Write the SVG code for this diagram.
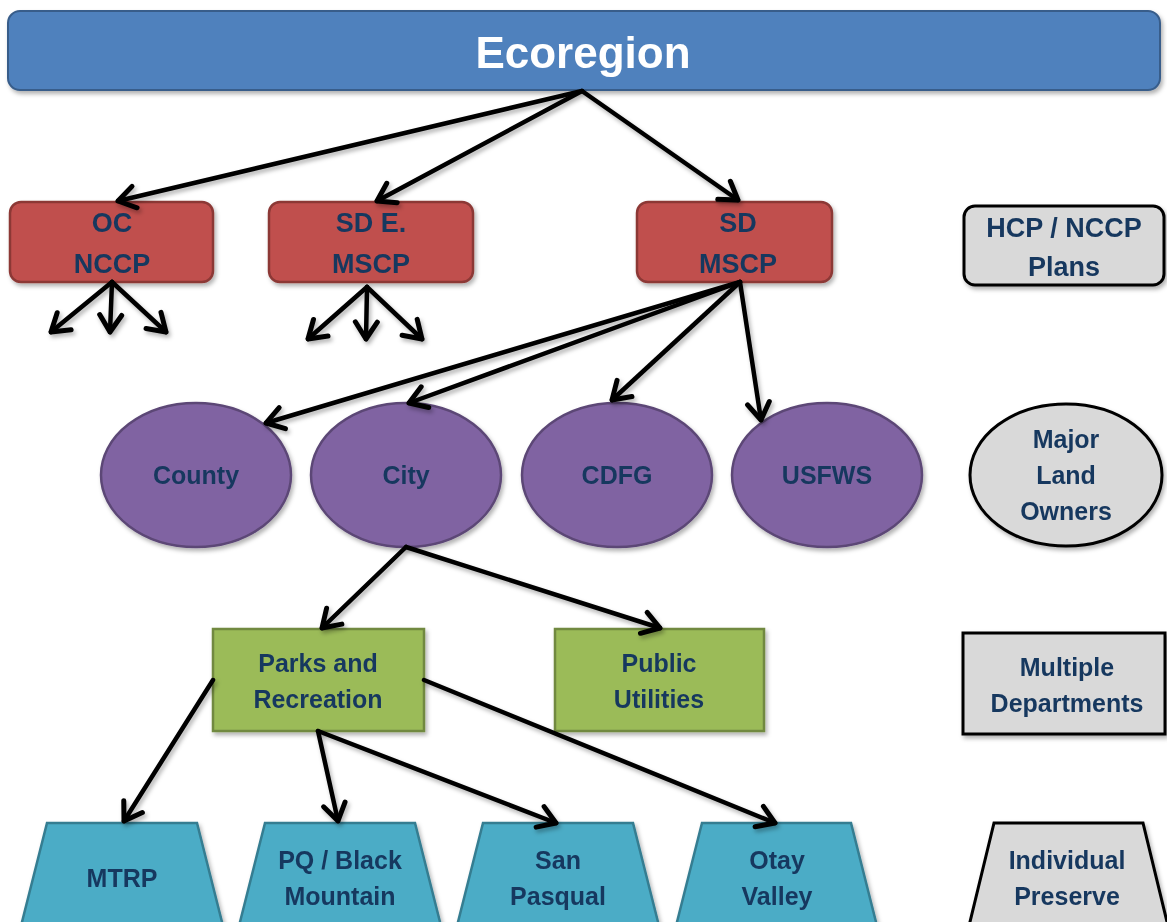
<svg xmlns="http://www.w3.org/2000/svg" width="1167" height="922" viewBox="0 0 1167 922">
<style>
text{font-family:"Liberation Sans",Arial,sans-serif;font-weight:bold;fill:#17375E;text-anchor:middle}
.t{font-size:27px}
.e{font-size:25px}
.g{font-size:25px}
.leg{fill:#D9D9D9;stroke:#000;stroke-width:3}
.red{fill:#C0504D;stroke:#8C3836;stroke-width:2.5}
.pur{fill:#8064A2;stroke:#5C4776;stroke-width:2.5}
.grn{fill:#9BBB59;stroke:#71893F;stroke-width:2.5}
.tea{fill:#4BACC6;stroke:#357D91;stroke-width:2.5}
.c line{stroke:#000;stroke-width:4.5;stroke-linecap:round;marker-end:url(#ah)}
</style>
<defs>
<filter id="sh" x="-10%" y="-10%" width="130%" height="140%">
<feDropShadow dx="2" dy="3" stdDeviation="2" flood-color="#000" flood-opacity="0.3"/>
</filter>
<marker id="ah" markerUnits="userSpaceOnUse" markerWidth="30" markerHeight="30" viewBox="-23 -15 30 30" refX="0" refY="0" orient="auto">
<path d="M-17,-11 L0,0 L-17,11" fill="none" stroke="#000" stroke-width="5" stroke-linecap="round" stroke-linejoin="round"/>
</marker>
</defs>
<rect width="1167" height="922" fill="#fff"/>

<g id="ecoregion" filter="url(#sh)">
<rect x="8" y="11" width="1152" height="79" rx="12" fill="#4F81BD" stroke="#385D8A" stroke-width="2"/>
<text x="583" y="68" style="font-size:44px;fill:#fff">Ecoregion</text>
</g>

<g id="oc-nccp" filter="url(#sh)">
<rect class="red" x="10" y="202" width="203" height="80" rx="11"/>
<text class="t" x="112" y="232">OC</text>
<text class="t" x="112" y="273">NCCP</text>
</g>
<g id="sd-e-mscp" filter="url(#sh)">
<rect class="red" x="269" y="202" width="204" height="80" rx="11"/>
<text class="t" x="371" y="232">SD E.</text>
<text class="t" x="371" y="273">MSCP</text>
</g>
<g id="sd-mscp" filter="url(#sh)">
<rect class="red" x="637" y="202" width="195" height="80" rx="11"/>
<text class="t" x="738" y="232">SD</text>
<text class="t" x="738" y="273">MSCP</text>
</g>
<g id="legend-plans" filter="url(#sh)">
<rect class="leg" x="964" y="206" width="200" height="79" rx="11"/>
<text class="t" x="1064" y="237">HCP / NCCP</text>
<text class="t" x="1064" y="276">Plans</text>
</g>

<g id="county" filter="url(#sh)">
<ellipse class="pur" cx="196" cy="475" rx="95" ry="72"/>
<text class="e" x="196" y="484">County</text>
</g>
<g id="city" filter="url(#sh)">
<ellipse class="pur" cx="406" cy="475" rx="95" ry="72"/>
<text class="e" x="406" y="484">City</text>
</g>
<g id="cdfg" filter="url(#sh)">
<ellipse class="pur" cx="617" cy="475" rx="95" ry="72"/>
<text class="e" x="617" y="484">CDFG</text>
</g>
<g id="usfws" filter="url(#sh)">
<ellipse class="pur" cx="827" cy="475" rx="95" ry="72"/>
<text class="e" x="827" y="484">USFWS</text>
</g>
<g id="legend-owners" filter="url(#sh)">
<ellipse class="leg" cx="1066" cy="475" rx="96" ry="71"/>
<text class="g" x="1066" y="448">Major</text>
<text class="g" x="1066" y="484">Land</text>
<text class="g" x="1066" y="520">Owners</text>
</g>

<g id="parks" filter="url(#sh)">
<rect class="grn" x="213" y="629" width="211" height="102"/>
<text class="g" x="318" y="672">Parks and</text>
<text class="g" x="318" y="708">Recreation</text>
</g>
<g id="utilities" filter="url(#sh)">
<rect class="grn" x="555" y="629" width="209" height="102"/>
<text class="g" x="659" y="672">Public</text>
<text class="g" x="659" y="708">Utilities</text>
</g>
<g id="legend-departments" filter="url(#sh)">
<rect class="leg" x="963" y="633" width="202" height="101"/>
<text class="g" x="1067" y="676">Multiple</text>
<text class="g" x="1067" y="712">Departments</text>
</g>

<g id="mtrp" filter="url(#sh)">
<polygon class="tea" points="47,823 197,823 223,926 21,926"/>
<text class="g" x="122" y="887">MTRP</text>
</g>
<g id="pq-black-mountain" filter="url(#sh)">
<polygon class="tea" points="265,823 415,823 441,926 239,926"/>
<text class="g" x="340" y="869">PQ / Black</text>
<text class="g" x="340" y="905">Mountain</text>
</g>
<g id="san-pasqual" filter="url(#sh)">
<polygon class="tea" points="483,823 633,823 659,926 457,926"/>
<text class="g" x="558" y="869">San</text>
<text class="g" x="558" y="905">Pasqual</text>
</g>
<g id="otay-valley" filter="url(#sh)">
<polygon class="tea" points="702,823 851,823 877,926 676,926"/>
<text class="g" x="777" y="869">Otay</text>
<text class="g" x="777" y="905">Valley</text>
</g>
<g id="legend-preserve" filter="url(#sh)">
<polygon class="leg" points="994,823 1143,823 1168,926 969,926"/>
<text class="g" x="1067" y="869">Individual</text>
<text class="g" x="1067" y="905">Preserve</text>
</g>

<g id="connectors" class="c" filter="url(#sh)">
<line x1="582" y1="91" x2="118" y2="201"/>
<line x1="582" y1="91" x2="377" y2="201"/>
<line x1="582" y1="91" x2="738" y2="200"/>
<line x1="112" y1="282" x2="51" y2="332"/>
<line x1="112" y1="282" x2="110" y2="332"/>
<line x1="112" y1="282" x2="166" y2="332"/>
<line x1="367" y1="287" x2="308" y2="339"/>
<line x1="367" y1="287" x2="366" y2="339"/>
<line x1="367" y1="287" x2="422" y2="339"/>
<line x1="740" y1="282" x2="266" y2="423"/>
<line x1="740" y1="282" x2="409" y2="403"/>
<line x1="740" y1="282" x2="612" y2="400"/>
<line x1="740" y1="282" x2="761" y2="420"/>
<line x1="406" y1="547" x2="322" y2="628"/>
<line x1="406" y1="547" x2="660" y2="628"/>
<line x1="213" y1="680" x2="124" y2="821"/>
<line x1="318" y1="731" x2="338" y2="821"/>
<line x1="318" y1="731" x2="556" y2="823"/>
<line x1="424" y1="680" x2="775" y2="823"/>
</g>
</svg>
